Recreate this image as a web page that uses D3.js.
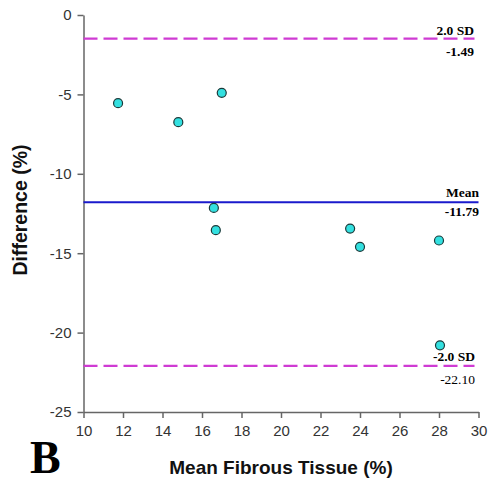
<!DOCTYPE html>
<html>
<head>
<meta charset="utf-8">
<script src="https://cdn.jsdelivr.net/npm/d3@7"></script>
<style>
  body { margin: 0; background: #fff; }
  svg { display: block; }
</style>
</head>
<body>
<div id="chart"></div>
<script>
// values
var meanFibrous = [11.75, 14.8, 17.0, 16.6, 16.7, 23.5, 24.0, 28.0, 28.05];
var difference = [-5.55, -6.75, -4.9, -12.15, -13.55, -13.45, -14.6, -14.2, -20.8];

var refNames = ["2.0 SD", "Mean", "-2.0 SD"];
var refValues = [-1.49, -11.79, -22.10];
var refLabels = ["-1.49", "-11.79", "-22.10"];

var xTicks = [10, 12, 14, 16, 18, 20, 22, 24, 26, 28, 30];
var yTicks = [0, -5, -10, -15, -20, -25];

var width = 491, height = 484;

var svg = d3.select("#chart").append("svg")
  .attr("width", width)
  .attr("height", height);

var x = d3.scaleLinear().domain([10, 30]).range([83.5, 478.5]);
var y = d3.scaleLinear().domain([0, -25]).range([15, 412]);

// plain hyphen instead of d3's unicode minus
var plain = function(d) { return String(d); };

// axes
var xAxis = svg.append("g")
  .attr("transform", "translate(0," + y(-25) + ")")
  .call(d3.axisBottom(x).tickValues(xTicks).tickFormat(plain).tickSize(6).tickSizeOuter(0).tickPadding(7));

var yAxis = svg.append("g")
  .attr("transform", "translate(" + x(10) + ",0)")
  .call(d3.axisLeft(y).tickValues(yTicks).tickFormat(plain).tickSize(6).tickSizeOuter(0).tickPadding(6));

[xAxis, yAxis].forEach(function(g) {
  g.select(".domain").attr("stroke", "#666").attr("stroke-width", 1.5);
  g.selectAll(".tick line").attr("stroke", "#666").attr("stroke-width", 1.5);
  g.selectAll(".tick text")
    .attr("fill", "#333")
    .style("font-family", "'Liberation Sans', Arial, sans-serif")
    .style("font-size", "15px");
});

// reference lines: +2SD, mean, -2SD
var lineColors = ["#cf3bd3", "#1a1acc", "#cf3bd3"];
for (let i = 0; i < refValues.length; i++) {
  var isMean = refNames[i] == "Mean";
  svg.append("line")
    .attr("x1", x(10))
    .attr("x2", isMean ? x(30) : x(30) - 4)
    .attr("y1", y(refValues[i]))
    .attr("y2", y(refValues[i]))
    .attr("stroke", lineColors[i])
    .attr("stroke-width", 2.2)
    .attr("stroke-dasharray", isMean ? null : "14,6");
}

// labels on the right of each line
var labelRight = [474, 479, 475];
var nameOffset = [-4, -5, -5];
var valueOffset = [17, 14, 18];
for (let i = 0; i < refValues.length; i++) {
  var yy = y(refValues[i]);
  svg.append("text")
    .attr("x", labelRight[i])
    .attr("y", yy + nameOffset[i])
    .attr("text-anchor", "end")
    .style("font-family", "'Liberation Serif', 'Times New Roman', serif")
    .style("font-weight", "bold")
    .style("font-size", "13.5px")
    .text(refNames[i]);
  svg.append("text")
    .attr("x", labelRight[i])
    .attr("y", yy + valueOffset[i])
    .attr("text-anchor", "end")
    .style("font-family", "'Liberation Serif', 'Times New Roman', serif")
    .style("font-weight", i == 2 ? "normal" : "bold")
    .style("font-size", "13.5px")
    .text(refLabels[i]);
}

// data points
var points = meanFibrous.map(function(d, i) { return [d, difference[i]]; });
svg.selectAll("circle.pt")
  .data(points)
  .enter().append("circle")
  .attr("class", "pt")
  .attr("cx", function(d) { return x(d[0]); })
  .attr("cy", function(d) { return y(d[1]); })
  .attr("r", 4.5)
  .attr("fill", "#33e0e0")
  .attr("stroke", "#1a3a3a")
  .attr("stroke-width", 1.2);

// axis titles
svg.append("text")
  .attr("x", (x(10) + x(30)) / 2)
  .attr("y", 474)
  .attr("text-anchor", "middle")
  .style("font-family", "'Liberation Sans', Arial, sans-serif")
  .style("font-weight", "bold")
  .style("font-size", "19px")
  .attr("fill", "#111")
  .text("Mean Fibrous Tissue (%)");

svg.append("text")
  .attr("transform", "translate(27,210) rotate(-90)")
  .attr("text-anchor", "middle")
  .style("font-family", "'Liberation Sans', Arial, sans-serif")
  .style("font-weight", "bold")
  .style("font-size", "19.5px")
  .attr("fill", "#111")
  .text("Difference (%)");

// panel letter
svg.append("text")
  .attr("x", 30)
  .attr("y", 473)
  .style("font-family", "'Liberation Serif', 'Times New Roman', serif")
  .style("font-weight", "bold")
  .style("font-size", "46px")
  .text("B");
</script>
</body>
</html>
